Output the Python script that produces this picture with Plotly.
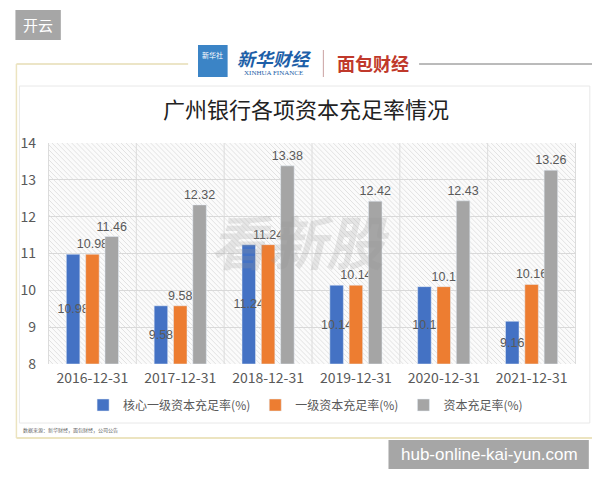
import base64
import plotly.graph_objects as go

categories = ["2016-12-31", "2017-12-31", "2018-12-31", "2019-12-31", "2020-12-31", "2021-12-31"]
core_tier1 = [10.98, 9.58, 11.24, 10.14, 10.1, 9.16]
tier1 = [10.98, 9.58, 11.24, 10.14, 10.1, 10.16]
total_car = [11.46, 12.32, 13.38, 12.42, 12.43, 13.26]
series_names = ["核心一级资本充足率(%)", "一级资本充足率(%)", "资本充足率(%)"]
colors = ["#4472C4", "#ED7D31", "#A5A5A5"]
title_text = "广州银行各项资本充足率情况"
axis_min, axis_max = 8, 14

# the page has an 8px body margin; positions below are page pixels
OFF = 8
W, H = 600 - OFF, 480 - OFF
L, R, T, B = 41, 576, 143, 364          # plot area in page pixels
FONT = "Noto Sans CJK SC"
NUMFONT = "Liberation Sans"
TXT = "#595959"


def px(x):
    return (x - L) / (R - L)


def py(y):
    return (B - y) / (B - T)


label_font = dict(color=TXT, size=12.5, family=NUMFONT)
fig = go.Figure()
series = [core_tier1, tier1, total_car]
for i, vals in enumerate(series):
    kw = dict(textposition="inside", insidetextanchor="middle", insidetextfont=label_font) if i == 0 \
        else dict(textposition="outside", outsidetextfont=label_font)
    fig.add_trace(go.Bar(
        x=categories, y=[v - axis_min for v in vals], base=axis_min,
        name=series_names[i], marker_color=colors[i],
        text=[f"{v:g}" for v in vals], textangle=0, constraintext="none", cliponaxis=False,
        hovertext=[f"{v:g}" for v in vals], hoverinfo="text+name", **kw))

# hatched plot background as svg data uri
pw, ph = R - L, B - T
lines = []
step = 5
for k in range(-ph, pw + ph, step):
    lines.append(f'<line x1="{k}" y1="0" x2="{k + ph}" y2="{ph}" stroke="#e2e2e2" stroke-width="1"/>')
svg = (f'<svg xmlns="http://www.w3.org/2000/svg" width="{pw}" height="{ph}">'
       f'<rect width="{pw}" height="{ph}" fill="#fbfbfb"/>{"".join(lines)}</svg>')
uri = "data:image/svg+xml;base64," + base64.b64encode(svg.encode()).decode()


def pline(x0, y0, x1, y1, color, width=1):
    return dict(type="line", xref="paper", yref="paper", x0=px(x0), x1=px(x1), y0=py(y0), y1=py(y1),
                line=dict(color=color, width=width))


def prect(x0, y0, x1, y1, fill=None, line=None, layer="above"):
    d = dict(type="rect", xref="paper", yref="paper", x0=px(x0), x1=px(x1), y0=py(y1), y1=py(y0),
             line=line or dict(width=0), layer=layer)
    if fill:
        d["fillcolor"] = fill
    return d


shapes = [
    pline(9, 64, 183, 64, "#e6dcb4", 1.5),
    pline(417, 64, 594, 64, "#777777", 1),
    pline(9, 64, 9, 438, "#ece4c0", 1.5),
    pline(9, 438, 594, 438, "#ece4c0", 2),
    pline(594, 64, 594, 438, "#777777", 1.5),
    prect(12, 86, 590, 423, line=dict(color="#e8e8e8", width=1), layer="below"),
    # logo icon and divider
    prect(193, 45, 223, 77, fill="#3b84c6"),
    pline(320, 50, 320, 77, "#c9a0a0", 1),
    # watermark boxes
    prect(8, 10, 54, 40, fill="#a6a6a6"),
    prect(386, 440, 589, 469, fill="#a6a6a6"),
]
# category separators
for i in range(len(categories) + 1):
    shapes.append(dict(type="line", xref="x", yref="paper", x0=i - 0.5, x1=i - 0.5, y0=0, y1=1,
                       line=dict(color="#dcdcdc", width=1), layer="below"))


def ann(text, x, y, size, color, family=FONT, xanchor="center"):
    return dict(text=text, x=px(x), y=py(y), xref="paper", yref="paper", showarrow=False,
                xanchor=xanchor, yanchor="middle",
                font=dict(size=size, color=color, family=family))


annotations = [
    ann(title_text, 302, 108, 22, "#222222"),
    ann("开云", 31, 25, 15, "white"),
    ann("hub-online-kai-yun.com", 488, 455, 17, "white", family=NUMFONT),
    ann("新华社", 208, 55, 7, "white"),
    ann("<i><b>新华财经</b></i>", 270, 58, 18, "#1d5fa8"),
    ann("XINHUA FINANCE", 269, 73, 7, "#1d5fa8", family="Liberation Serif"),
    ann("<b>面包财经</b>", 370, 63, 18, "#c0392b"),
    ann("<b><i>看新股</i></b>", 296, 240, 58, "rgba(150,150,150,0.22)"),
    ann("数据来源：新华财经，面包财经，公司公告", 14, 430, 5, "#666666", xanchor="left"),
]

fig.update_layout(
    width=W, height=H,
    margin=dict(l=L - OFF, r=W - (R - OFF), t=T - OFF, b=H - (B - OFF), pad=0),
    paper_bgcolor="white", plot_bgcolor="rgba(0,0,0,0)",
    font=dict(family=FONT, color=TXT, size=12),
    barmode="group", bargap=0.34, bargroupgap=0.3,
    showlegend=True,
    legend=dict(orientation="h", x=px(302), xanchor="center", y=py(405), yanchor="middle",
                font=dict(size=12, color=TXT), traceorder="normal", itemwidth=30),
    xaxis=dict(type="category", showgrid=False, zeroline=False, showline=False, ticks="",
               tickfont=dict(size=14, color=TXT), ticklabelstandoff=4),
    yaxis=dict(range=[axis_min, axis_max], dtick=1, showgrid=True, gridcolor="#d9d9d9", zeroline=False,
               showline=False, ticks="", tickfont=dict(size=14, color=TXT), ticklabelstandoff=11),
    shapes=shapes,
    annotations=annotations,
    images=[dict(source=uri, xref="paper", yref="paper", x=0, y=1, sizex=1, sizey=1,
                 sizing="stretch", layer="below", xanchor="left", yanchor="top")],
)

fig.write_html("out.html")
